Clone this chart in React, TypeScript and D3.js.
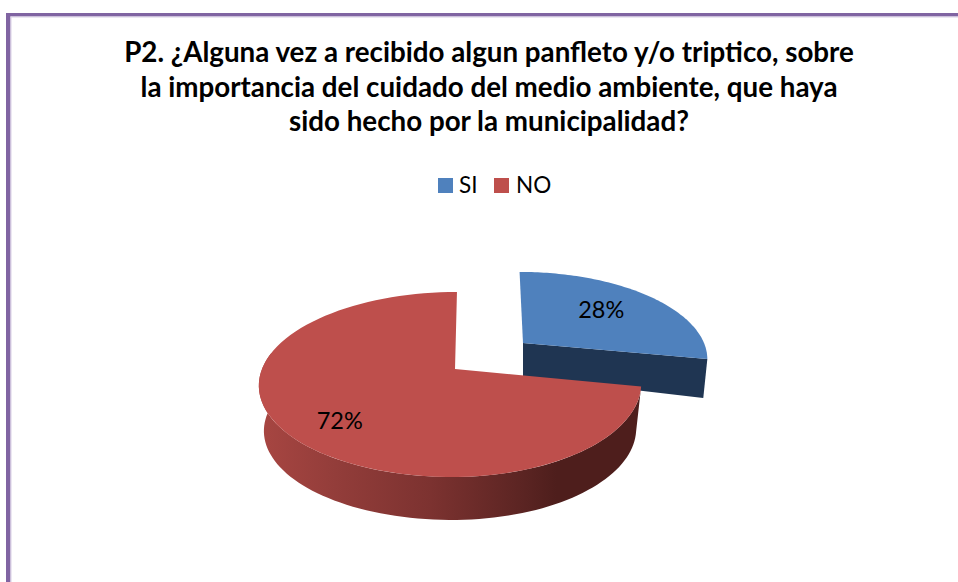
import React from "react";
import * as d3 from "d3";

const width = 958;
const height = 582;

const categories = ["SI", "NO"];
const values = [28, 72];
const colors = ["#4F81BD", "#BE4F4C"];
const titleLines = [
  "P2. ¿Alguna vez a recibido algun panfleto y/o triptico, sobre",
  "la importancia del cuidado del medio ambiente, que haya",
  "sido hecho por la municipalidad?",
];

// perspective of the tilted disc, v = 1 is the far rim
const persp = 0.1676;

type View = { x: number; y: number; wl: number; wr: number; h: number; tilt: number };

const project = (view: View, angle: number, f = 1): [number, number] => {
  const u = Math.sin(angle) * f;
  const v = Math.cos(angle) * f;
  const d = 1 + persp * v;
  const w = u < 0 ? view.wl : view.wr;
  return [view.x + (w * u + view.tilt * v) / d, view.y - (view.h * v) / d];
};

const rim = (view: View, a0: number, a1: number) =>
  d3.range(0, 91).map((i) => project(view, a0 + ((a1 - a0) * i) / 90));

const line = d3.line();

const pieData = d3.pie<number>().sort(null).startAngle(0).endAngle(2 * Math.PI)(values);

const App = () => {
  const redTop: View = { x: 455, y: 369, wl: 193, wr: 184, h: 89.9, tilt: 2.3 };
  const redBottom: View = { x: 455, y: 414.7, wl: 188, wr: 179, h: 87.6, tilt: 2.3 };
  const blueTop: View = { x: 523, y: 343, wl: 181, wr: 181, h: 83, tilt: -4 };
  const blueBottom: View = { x: 523, y: 377, wl: 177, wr: 177, h: 108, tilt: -4 };

  const [si, no] = pieData;
  const wallEnd = Math.PI * 1.56;

  const redWall = [
    ...rim(redTop, no.startAngle, wallEnd),
    ...rim(redBottom, no.startAngle, wallEnd).reverse(),
  ];
  const redFace = [[redTop.x, redTop.y] as [number, number], ...rim(redTop, no.startAngle, no.endAngle)];
  const blueFace = [[blueTop.x, blueTop.y] as [number, number], ...rim(blueTop, si.startAngle, si.endAngle)];
  const blueWall: [number, number][] = [
    [blueTop.x, blueTop.y],
    project(blueTop, si.endAngle),
    project(blueBottom, si.endAngle),
    [blueBottom.x, blueBottom.y],
  ];

  const siLabel = project(blueTop, (si.startAngle + si.endAngle) / 2, 0.6);
  const noLabel = project(redTop, (no.startAngle + no.endAngle) / 2, 0.76);

  const font = "Lato, 'Open Sans', sans-serif";

  return (
    <svg
      width={width}
      height={height}
      style={{ position: "absolute", left: 0, top: 0, display: "block", background: "#fff" }}
    >
      <defs>
        <linearGradient id="redSide" gradientUnits="userSpaceOnUse" x1={259} x2={640} y1={0} y2={0}>
          <stop offset="0" stopColor="#A84642" />
          <stop offset="0.2" stopColor="#933D3A" />
          <stop offset="0.45" stopColor="#7C3230" />
          <stop offset="0.7" stopColor="#5A2422" />
          <stop offset="0.78" stopColor="#4E1E1C" />
          <stop offset="1" stopColor="#4E1E1C" />
        </linearGradient>
      </defs>

      {/* frame */}
      <rect x={6} y={13} width={width} height={3.5} fill="#8064A2" />
      <rect x={6} y={13} width={4.5} height={height} fill="#8064A2" />
      <rect x={10.5} y={16.5} width={width} height={1} fill="#D9CFE6" />
      <rect x={10.5} y={16.5} width={1} height={height} fill="#D9CFE6" />

      {titleLines.map((t, i) => (
        <text
          key={i}
          x={489}
          y={62 + i * 34.5}
          textAnchor="middle"
          fontFamily={font}
          fontWeight={700}
          fontSize={27.75}
          fill="#000"
        >
          {t}
        </text>
      ))}

      {/* legend */}
      {categories.map((c, i) => (
        <g key={c} transform={`translate(${i === 0 ? 438 : 494},178)`}>
          <rect width={15} height={15} fill={colors[i]} />
          <text x={i === 0 ? 21 : 22} y={15} fontFamily={font} fontSize={22.5} fill="#000">
            {c}
          </text>
        </g>
      ))}

      {/* exploded slice */}
      <path d={line(blueWall) ?? ""} fill="#1F3552" />
      <path d={(line(blueFace) ?? "") + "Z"} fill={colors[0]} />

      {/* main slice */}
      <path d={line(redWall) ?? ""} fill="url(#redSide)" />
      <path d={(line(redFace) ?? "") + "Z"} fill={colors[1]} />

      <text x={siLabel[0] + 1} y={siLabel[1] + 5} textAnchor="middle" fontFamily={font} fontSize={23.5} fill="#000">
        {values[0]}%
      </text>
      <text x={noLabel[0] + 9} y={noLabel[1] + 13} textAnchor="middle" fontFamily={font} fontSize={23.5} fill="#000">
        {values[1]}%
      </text>
    </svg>
  );
};

export default App;
